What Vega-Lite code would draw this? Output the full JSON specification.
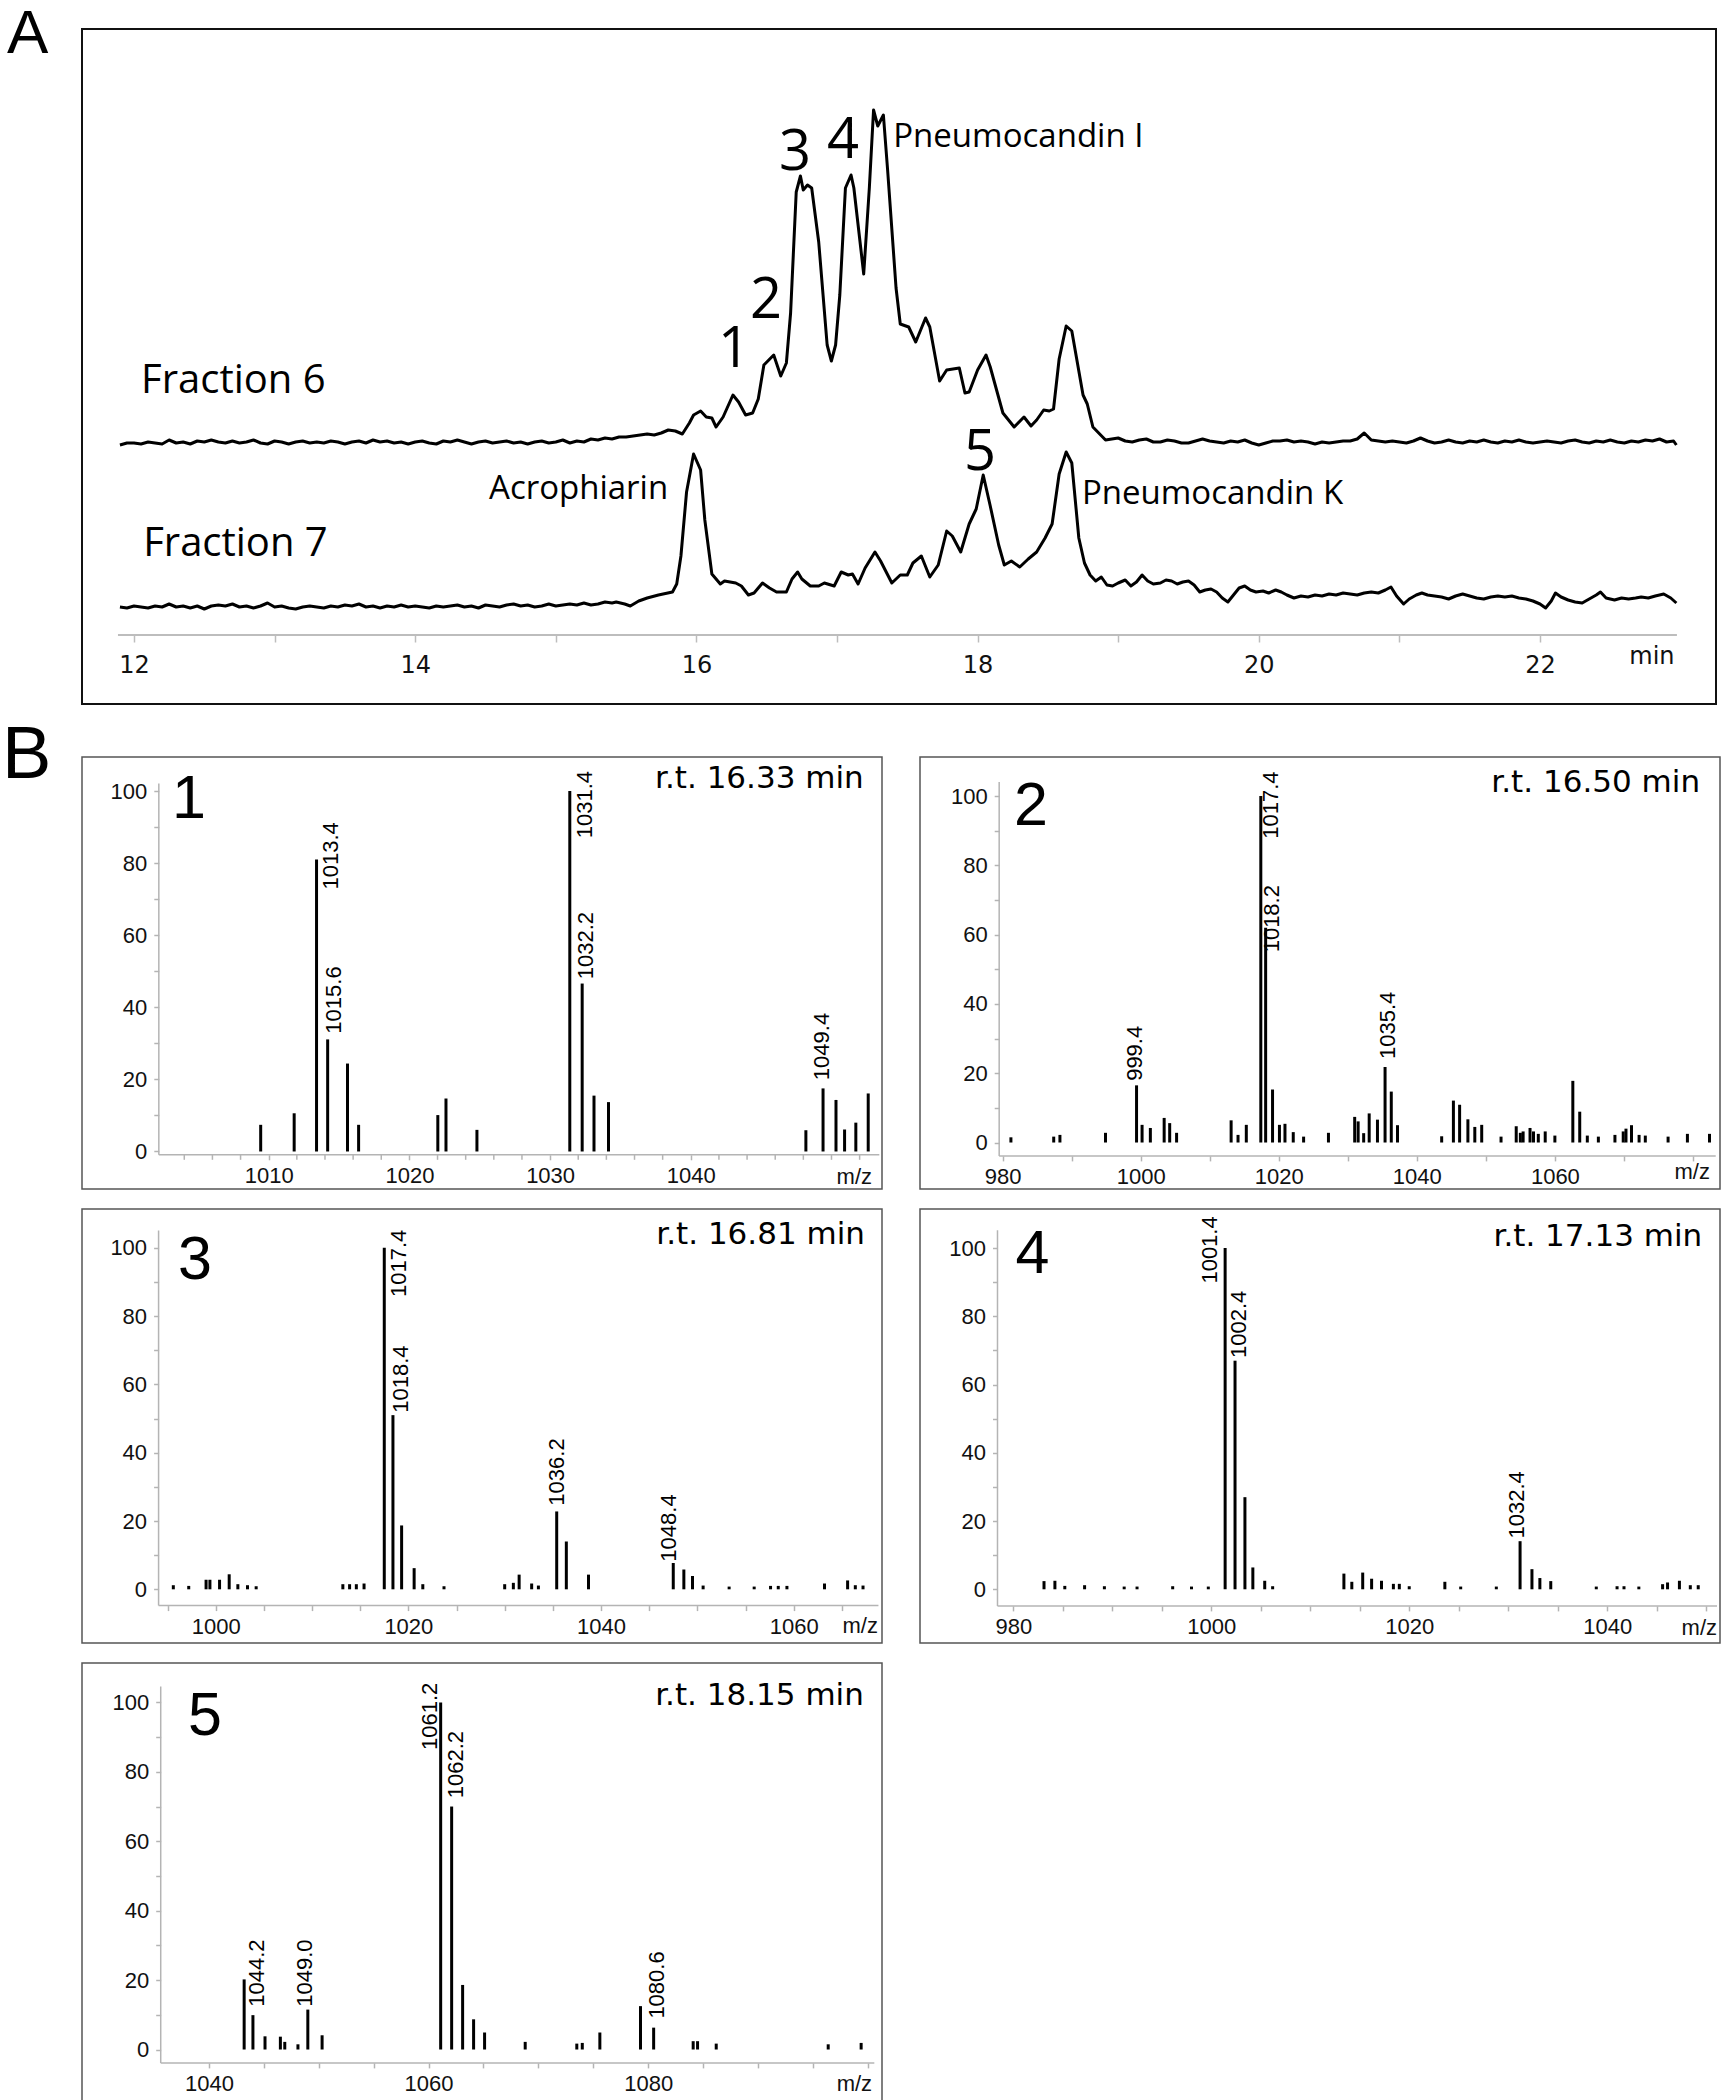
{
"$schema": "https://vega.github.io/schema/vega-lite/v6.json",
"background": "white",
"padding": {"left": 1, "top": 2, "right": 4, "bottom": 0},
"spacing": 13,
"config": {"axis": {"grid": false, "domain": false, "labelOverlap": false, "labelFlush": false, "labelBound": false}, "text": {"color": "#000"}},
"vconcat": [
{
 "width": 1634, "height": 675,
 "view": {"stroke": "#111", "strokeWidth": 2},
 "layer": [
  {"data": {"values": [
{"f":6,"t":11.9,"s":162},{"f":6,"t":11.95,"s":164},{"f":6,"t":12.0,"s":164},{"f":6,"t":12.05,"s":163},{"f":6,"t":12.1,"s":165},{"f":6,"t":12.15,"s":164},{"f":6,"t":12.2,"s":163},{"f":6,"t":12.25,"s":167},{"f":6,"t":12.3,"s":164},{"f":6,"t":12.35,"s":165},{"f":6,"t":12.4,"s":163},{"f":6,"t":12.45,"s":166},{"f":6,"t":12.5,"s":165},{"f":6,"t":12.55,"s":167},{"f":6,"t":12.6,"s":165},{"f":6,"t":12.65,"s":164},{"f":6,"t":12.7,"s":166},{"f":6,"t":12.75,"s":164},{"f":6,"t":12.8,"s":165},{"f":6,"t":12.85,"s":167},{"f":6,"t":12.9,"s":164},{"f":6,"t":12.95,"s":163},{"f":6,"t":13.0,"s":166},{"f":6,"t":13.05,"s":165},{"f":6,"t":13.1,"s":163},{"f":6,"t":13.15,"s":165},{"f":6,"t":13.2,"s":166},{"f":6,"t":13.25,"s":164},{"f":6,"t":13.3,"s":165},{"f":6,"t":13.35,"s":164},{"f":6,"t":13.4,"s":166},{"f":6,"t":13.45,"s":165},{"f":6,"t":13.5,"s":163},{"f":6,"t":13.55,"s":165},{"f":6,"t":13.6,"s":166},{"f":6,"t":13.65,"s":164},{"f":6,"t":13.7,"s":167},{"f":6,"t":13.75,"s":165},{"f":6,"t":13.8,"s":166},{"f":6,"t":13.85,"s":164},{"f":6,"t":13.9,"s":165},{"f":6,"t":13.95,"s":163},{"f":6,"t":14.0,"s":165},{"f":6,"t":14.05,"s":166},{"f":6,"t":14.1,"s":164},{"f":6,"t":14.15,"s":163},{"f":6,"t":14.2,"s":166},{"f":6,"t":14.25,"s":165},{"f":6,"t":14.3,"s":167},{"f":6,"t":14.35,"s":165},{"f":6,"t":14.4,"s":163},{"f":6,"t":14.45,"s":165},{"f":6,"t":14.5,"s":166},{"f":6,"t":14.55,"s":164},{"f":6,"t":14.6,"s":165},{"f":6,"t":14.65,"s":166},{"f":6,"t":14.7,"s":164},{"f":6,"t":14.75,"s":165},{"f":6,"t":14.8,"s":163},{"f":6,"t":14.85,"s":165},{"f":6,"t":14.9,"s":166},{"f":6,"t":14.95,"s":164},{"f":6,"t":15.0,"s":165},{"f":6,"t":15.05,"s":167},{"f":6,"t":15.1,"s":164},{"f":6,"t":15.15,"s":166},{"f":6,"t":15.2,"s":165},{"f":6,"t":15.25,"s":168},{"f":6,"t":15.3,"s":167},{"f":6,"t":15.35,"s":169},{"f":6,"t":15.4,"s":168},{"f":6,"t":15.45,"s":170},{"f":6,"t":15.5,"s":170},{"f":6,"t":15.55,"s":171},{"f":6,"t":15.6,"s":172},{"f":6,"t":15.65,"s":173},{"f":6,"t":15.7,"s":172},{"f":6,"t":15.75,"s":174},{"f":6,"t":15.8,"s":177},{"f":6,"t":15.85,"s":176},{"f":6,"t":15.9,"s":173},{"f":6,"t":15.95,"s":184},{"f":6,"t":15.98,"s":192},{"f":6,"t":16.03,"s":196},{"f":6,"t":16.07,"s":190},{"f":6,"t":16.11,"s":189},{"f":6,"t":16.14,"s":180},{"f":6,"t":16.19,"s":190},{"f":6,"t":16.26,"s":212},{"f":6,"t":16.3,"s":205},{"f":6,"t":16.35,"s":192},{"f":6,"t":16.4,"s":194},{"f":6,"t":16.44,"s":208},{"f":6,"t":16.48,"s":242},{"f":6,"t":16.55,"s":252},{"f":6,"t":16.6,"s":231},{"f":6,"t":16.64,"s":244},{"f":6,"t":16.67,"s":294},{"f":6,"t":16.71,"s":415},{"f":6,"t":16.74,"s":431},{"f":6,"t":16.76,"s":417},{"f":6,"t":16.79,"s":422},{"f":6,"t":16.82,"s":419},{"f":6,"t":16.87,"s":365},{"f":6,"t":16.93,"s":262},{"f":6,"t":16.96,"s":246},{"f":6,"t":16.99,"s":262},{"f":6,"t":17.02,"s":312},{"f":6,"t":17.06,"s":419},{"f":6,"t":17.1,"s":432},{"f":6,"t":17.12,"s":419},{"f":6,"t":17.19,"s":333},{"f":6,"t":17.23,"s":419},{"f":6,"t":17.26,"s":497},{"f":6,"t":17.29,"s":481},{"f":6,"t":17.33,"s":492},{"f":6,"t":17.36,"s":437},{"f":6,"t":17.42,"s":319},{"f":6,"t":17.45,"s":283},{"f":6,"t":17.51,"s":280},{"f":6,"t":17.56,"s":265},{"f":6,"t":17.63,"s":289},{"f":6,"t":17.66,"s":280},{"f":6,"t":17.73,"s":226},{"f":6,"t":17.78,"s":237},{"f":6,"t":17.87,"s":239},{"f":6,"t":17.91,"s":214},{"f":6,"t":17.94,"s":215},{"f":6,"t":18.0,"s":237},{"f":6,"t":18.06,"s":252},{"f":6,"t":18.09,"s":240},{"f":6,"t":18.18,"s":194},{"f":6,"t":18.26,"s":180},{"f":6,"t":18.33,"s":190},{"f":6,"t":18.38,"s":181},{"f":6,"t":18.42,"s":187},{"f":6,"t":18.47,"s":197},{"f":6,"t":18.51,"s":196},{"f":6,"t":18.54,"s":198},{"f":6,"t":18.58,"s":248},{"f":6,"t":18.63,"s":281},{"f":6,"t":18.67,"s":276},{"f":6,"t":18.75,"s":212},{"f":6,"t":18.78,"s":203},{"f":6,"t":18.82,"s":180},{"f":6,"t":18.91,"s":167},{"f":6,"t":19.0,"s":169},{"f":6,"t":19.05,"s":166},{"f":6,"t":19.1,"s":165},{"f":6,"t":19.15,"s":167},{"f":6,"t":19.2,"s":168},{"f":6,"t":19.25,"s":165},{"f":6,"t":19.3,"s":165},{"f":6,"t":19.35,"s":167},{"f":6,"t":19.4,"s":166},{"f":6,"t":19.45,"s":164},{"f":6,"t":19.5,"s":164},{"f":6,"t":19.55,"s":166},{"f":6,"t":19.6,"s":168},{"f":6,"t":19.65,"s":166},{"f":6,"t":19.7,"s":165},{"f":6,"t":19.75,"s":164},{"f":6,"t":19.8,"s":166},{"f":6,"t":19.85,"s":165},{"f":6,"t":19.9,"s":167},{"f":6,"t":19.95,"s":164},{"f":6,"t":20.0,"s":162},{"f":6,"t":20.05,"s":164},{"f":6,"t":20.1,"s":166},{"f":6,"t":20.15,"s":166},{"f":6,"t":20.2,"s":167},{"f":6,"t":20.25,"s":165},{"f":6,"t":20.3,"s":166},{"f":6,"t":20.35,"s":165},{"f":6,"t":20.4,"s":163},{"f":6,"t":20.45,"s":165},{"f":6,"t":20.5,"s":164},{"f":6,"t":20.55,"s":165},{"f":6,"t":20.6,"s":166},{"f":6,"t":20.65,"s":166},{"f":6,"t":20.7,"s":168},{"f":6,"t":20.75,"s":174},{"f":6,"t":20.8,"s":167},{"f":6,"t":20.85,"s":166},{"f":6,"t":20.9,"s":165},{"f":6,"t":20.95,"s":166},{"f":6,"t":21.0,"s":165},{"f":6,"t":21.05,"s":164},{"f":6,"t":21.1,"s":166},{"f":6,"t":21.15,"s":169},{"f":6,"t":21.2,"s":166},{"f":6,"t":21.25,"s":164},{"f":6,"t":21.3,"s":165},{"f":6,"t":21.35,"s":167},{"f":6,"t":21.4,"s":165},{"f":6,"t":21.45,"s":164},{"f":6,"t":21.5,"s":166},{"f":6,"t":21.55,"s":165},{"f":6,"t":21.6,"s":167},{"f":6,"t":21.65,"s":165},{"f":6,"t":21.7,"s":164},{"f":6,"t":21.75,"s":166},{"f":6,"t":21.8,"s":165},{"f":6,"t":21.85,"s":167},{"f":6,"t":21.9,"s":165},{"f":6,"t":21.95,"s":164},{"f":6,"t":22.0,"s":165},{"f":6,"t":22.05,"s":166},{"f":6,"t":22.1,"s":165},{"f":6,"t":22.15,"s":164},{"f":6,"t":22.2,"s":166},{"f":6,"t":22.25,"s":167},{"f":6,"t":22.3,"s":165},{"f":6,"t":22.35,"s":164},{"f":6,"t":22.4,"s":166},{"f":6,"t":22.45,"s":165},{"f":6,"t":22.5,"s":167},{"f":6,"t":22.55,"s":165},{"f":6,"t":22.6,"s":164},{"f":6,"t":22.65,"s":166},{"f":6,"t":22.7,"s":165},{"f":6,"t":22.75,"s":167},{"f":6,"t":22.8,"s":166},{"f":6,"t":22.85,"s":168},{"f":6,"t":22.9,"s":165},{"f":6,"t":22.95,"s":166},{"f":6,"t":22.97,"s":162},
{"f":7,"t":11.9,"s":0},{"f":7,"t":11.95,"s":-1},{"f":7,"t":12.0,"s":1},{"f":7,"t":12.05,"s":0},{"f":7,"t":12.1,"s":-1},{"f":7,"t":12.15,"s":1},{"f":7,"t":12.2,"s":0},{"f":7,"t":12.25,"s":3},{"f":7,"t":12.3,"s":0},{"f":7,"t":12.35,"s":1},{"f":7,"t":12.4,"s":-1},{"f":7,"t":12.45,"s":1},{"f":7,"t":12.5,"s":-2},{"f":7,"t":12.55,"s":1},{"f":7,"t":12.6,"s":2},{"f":7,"t":12.65,"s":1},{"f":7,"t":12.7,"s":3},{"f":7,"t":12.75,"s":0},{"f":7,"t":12.8,"s":1},{"f":7,"t":12.85,"s":-1},{"f":7,"t":12.9,"s":1},{"f":7,"t":12.95,"s":4},{"f":7,"t":13.0,"s":0},{"f":7,"t":13.05,"s":1},{"f":7,"t":13.1,"s":-1},{"f":7,"t":13.15,"s":-2},{"f":7,"t":13.2,"s":0},{"f":7,"t":13.25,"s":1},{"f":7,"t":13.3,"s":0},{"f":7,"t":13.35,"s":-1},{"f":7,"t":13.4,"s":1},{"f":7,"t":13.45,"s":0},{"f":7,"t":13.5,"s":2},{"f":7,"t":13.55,"s":1},{"f":7,"t":13.6,"s":3},{"f":7,"t":13.65,"s":0},{"f":7,"t":13.7,"s":1},{"f":7,"t":13.75,"s":-1},{"f":7,"t":13.8,"s":1},{"f":7,"t":13.85,"s":0},{"f":7,"t":13.9,"s":2},{"f":7,"t":13.95,"s":0},{"f":7,"t":14.0,"s":1},{"f":7,"t":14.05,"s":0},{"f":7,"t":14.1,"s":-1},{"f":7,"t":14.15,"s":1},{"f":7,"t":14.2,"s":0},{"f":7,"t":14.25,"s":1},{"f":7,"t":14.3,"s":2},{"f":7,"t":14.35,"s":0},{"f":7,"t":14.4,"s":1},{"f":7,"t":14.45,"s":-1},{"f":7,"t":14.5,"s":2},{"f":7,"t":14.55,"s":1},{"f":7,"t":14.6,"s":0},{"f":7,"t":14.65,"s":2},{"f":7,"t":14.7,"s":3},{"f":7,"t":14.75,"s":1},{"f":7,"t":14.8,"s":2},{"f":7,"t":14.85,"s":0},{"f":7,"t":14.9,"s":1},{"f":7,"t":14.95,"s":3},{"f":7,"t":15.0,"s":1},{"f":7,"t":15.05,"s":2},{"f":7,"t":15.1,"s":3},{"f":7,"t":15.15,"s":2},{"f":7,"t":15.2,"s":4},{"f":7,"t":15.25,"s":2},{"f":7,"t":15.3,"s":3},{"f":7,"t":15.35,"s":5},{"f":7,"t":15.4,"s":4},{"f":7,"t":15.43,"s":5},{"f":7,"t":15.49,"s":3},{"f":7,"t":15.53,"s":1},{"f":7,"t":15.59,"s":6},{"f":7,"t":15.65,"s":9},{"f":7,"t":15.73,"s":12},{"f":7,"t":15.83,"s":15},{"f":7,"t":15.86,"s":23},{"f":7,"t":15.89,"s":51},{"f":7,"t":15.93,"s":115},{"f":7,"t":15.98,"s":153},{"f":7,"t":16.03,"s":137},{"f":7,"t":16.06,"s":87},{"f":7,"t":16.11,"s":33},{"f":7,"t":16.17,"s":23},{"f":7,"t":16.2,"s":26},{"f":7,"t":16.28,"s":24},{"f":7,"t":16.32,"s":21},{"f":7,"t":16.37,"s":12},{"f":7,"t":16.41,"s":14},{"f":7,"t":16.47,"s":24},{"f":7,"t":16.52,"s":19},{"f":7,"t":16.57,"s":15},{"f":7,"t":16.64,"s":15},{"f":7,"t":16.68,"s":28},{"f":7,"t":16.72,"s":35},{"f":7,"t":16.75,"s":28},{"f":7,"t":16.81,"s":21},{"f":7,"t":16.87,"s":21},{"f":7,"t":16.91,"s":24},{"f":7,"t":16.98,"s":21},{"f":7,"t":17.03,"s":35},{"f":7,"t":17.08,"s":32},{"f":7,"t":17.11,"s":33},{"f":7,"t":17.15,"s":23},{"f":7,"t":17.2,"s":39},{"f":7,"t":17.27,"s":55},{"f":7,"t":17.31,"s":46},{"f":7,"t":17.39,"s":24},{"f":7,"t":17.45,"s":32},{"f":7,"t":17.5,"s":32},{"f":7,"t":17.54,"s":44},{"f":7,"t":17.6,"s":51},{"f":7,"t":17.66,"s":30},{"f":7,"t":17.72,"s":42},{"f":7,"t":17.78,"s":76},{"f":7,"t":17.82,"s":71},{"f":7,"t":17.88,"s":55},{"f":7,"t":17.94,"s":83},{"f":7,"t":17.99,"s":98},{"f":7,"t":18.04,"s":132},{"f":7,"t":18.09,"s":101},{"f":7,"t":18.15,"s":62},{"f":7,"t":18.19,"s":42},{"f":7,"t":18.24,"s":46},{"f":7,"t":18.3,"s":40},{"f":7,"t":18.36,"s":48},{"f":7,"t":18.42,"s":55},{"f":7,"t":18.48,"s":69},{"f":7,"t":18.53,"s":83},{"f":7,"t":18.58,"s":133},{"f":7,"t":18.63,"s":155},{"f":7,"t":18.67,"s":144},{"f":7,"t":18.72,"s":69},{"f":7,"t":18.76,"s":44},{"f":7,"t":18.8,"s":32},{"f":7,"t":18.84,"s":26},{"f":7,"t":18.88,"s":30},{"f":7,"t":18.92,"s":22},{"f":7,"t":18.96,"s":21},{"f":7,"t":19.0,"s":24},{"f":7,"t":19.05,"s":27},{"f":7,"t":19.09,"s":21},{"f":7,"t":19.13,"s":25},{"f":7,"t":19.17,"s":32},{"f":7,"t":19.21,"s":26},{"f":7,"t":19.25,"s":23},{"f":7,"t":19.3,"s":24},{"f":7,"t":19.34,"s":27},{"f":7,"t":19.38,"s":26},{"f":7,"t":19.42,"s":23},{"f":7,"t":19.46,"s":25},{"f":7,"t":19.5,"s":26},{"f":7,"t":19.54,"s":22},{"f":7,"t":19.58,"s":15},{"f":7,"t":19.62,"s":17},{"f":7,"t":19.66,"s":18},{"f":7,"t":19.7,"s":15},{"f":7,"t":19.74,"s":9},{"f":7,"t":19.78,"s":5},{"f":7,"t":19.82,"s":12},{"f":7,"t":19.86,"s":19},{"f":7,"t":19.9,"s":21},{"f":7,"t":19.94,"s":17},{"f":7,"t":19.98,"s":15},{"f":7,"t":20.03,"s":16},{"f":7,"t":20.07,"s":14},{"f":7,"t":20.12,"s":17},{"f":7,"t":20.16,"s":15},{"f":7,"t":20.2,"s":12},{"f":7,"t":20.25,"s":9},{"f":7,"t":20.3,"s":11},{"f":7,"t":20.35,"s":10},{"f":7,"t":20.4,"s":12},{"f":7,"t":20.45,"s":11},{"f":7,"t":20.5,"s":13},{"f":7,"t":20.55,"s":12},{"f":7,"t":20.6,"s":14},{"f":7,"t":20.65,"s":13},{"f":7,"t":20.7,"s":12},{"f":7,"t":20.75,"s":14},{"f":7,"t":20.8,"s":15},{"f":7,"t":20.85,"s":14},{"f":7,"t":20.9,"s":17},{"f":7,"t":20.94,"s":20},{"f":7,"t":20.98,"s":11},{"f":7,"t":21.03,"s":3},{"f":7,"t":21.07,"s":8},{"f":7,"t":21.12,"s":12},{"f":7,"t":21.16,"s":14},{"f":7,"t":21.2,"s":12},{"f":7,"t":21.25,"s":11},{"f":7,"t":21.3,"s":10},{"f":7,"t":21.35,"s":8},{"f":7,"t":21.4,"s":11},{"f":7,"t":21.45,"s":13},{"f":7,"t":21.5,"s":11},{"f":7,"t":21.55,"s":9},{"f":7,"t":21.6,"s":8},{"f":7,"t":21.65,"s":10},{"f":7,"t":21.7,"s":11},{"f":7,"t":21.75,"s":10},{"f":7,"t":21.8,"s":11},{"f":7,"t":21.85,"s":9},{"f":7,"t":21.9,"s":8},{"f":7,"t":21.95,"s":6},{"f":7,"t":22.0,"s":3},{"f":7,"t":22.04,"s":-1},{"f":7,"t":22.08,"s":6},{"f":7,"t":22.11,"s":14},{"f":7,"t":22.15,"s":10},{"f":7,"t":22.2,"s":7},{"f":7,"t":22.25,"s":5},{"f":7,"t":22.3,"s":4},{"f":7,"t":22.35,"s":8},{"f":7,"t":22.4,"s":12},{"f":7,"t":22.43,"s":15},{"f":7,"t":22.47,"s":9},{"f":7,"t":22.53,"s":7},{"f":7,"t":22.58,"s":9},{"f":7,"t":22.63,"s":8},{"f":7,"t":22.68,"s":9},{"f":7,"t":22.72,"s":10},{"f":7,"t":22.77,"s":9},{"f":7,"t":22.82,"s":11},{"f":7,"t":22.88,"s":13},{"f":7,"t":22.93,"s":9},{"f":7,"t":22.97,"s":4}
  ]},
   "mark": {"type": "line", "color": "#000", "strokeWidth": 3, "strokeJoin": "round"},
   "encoding": {
    "x": {"field": "t", "type": "quantitative", "scale": {"domain": [11.6302, 23.2518], "nice": false, "zero": false},
      "axis": {"orient": "bottom", "offset": -69, "values": [12,12.5,13,13.5,14,14.5,15,15.5,16,16.5,17,17.5,18,18.5,19,19.5,20,20.5,21,21.5,22,22.5], "labelExpr": "datum.value % 2 === 0 ? datum.label : ''", "format": "d", "tickSize": 7, "tickWidth": 1.5, "tickColor": "#bdbdbd", "labelFont": "DejaVu Sans", "labelFontSize": 24, "labelPadding": 11, "labelColor": "#111", "title": null, "domain": false, "grid": false, "labelOverlap": false, "labelFlush": false, "labelBound": false}},
    "y": {"field": "s", "type": "quantitative", "scale": {"domain": [-97, 578], "nice": false, "zero": false}, "axis": null},
    "detail": {"field": "f"}
   }},
  {"data": {"values": [{}]}, "mark": {"type": "rule", "color": "#bdbdbd", "strokeWidth": 2},
   "encoding": {"x": {"datum": 11.886, "type": "quantitative", "scale": {"domain": [11.6302, 23.2518], "nice": false, "zero": false}}, "x2": {"datum": 22.974}, "y": {"datum": -28, "type": "quantitative", "scale": {"domain": [-97, 578], "nice": false, "zero": false}, "axis": null}}},
  {"data": {"values": [{"t":16.267,"s":240,"label":"1"},{"t":16.495,"s":289,"label":"2"},{"t":16.701,"s":437,"label":"3"},{"t":17.043,"s":449,"label":"4"},{"t":18.017,"s":137,"label":"5"}]},
   "mark": {"type": "text", "font": "Open Sans", "fontSize": 56, "align": "center", "baseline": "alphabetic"},
   "encoding": {"x": {"field": "t", "type": "quantitative", "scale": {"domain": [11.6302, 23.2518], "nice": false, "zero": false}}, "y": {"field": "s", "type": "quantitative", "scale": {"domain": [-97, 578], "nice": false, "zero": false}, "axis": null}, "text": {"field": "label"}}},
  {"data": {"values": [{"t":17.40,"s":460,"label":"Pneumocandin I"},{"t":18.742,"s":103,"label":"Pneumocandin K"},{"t":14.525,"s":108,"label":"Acrophiarin"}]},
   "mark": {"type": "text", "font": "Open Sans", "fontSize": 33, "align": "left", "baseline": "alphabetic"},
   "encoding": {"x": {"field": "t", "type": "quantitative", "scale": {"domain": [11.6302, 23.2518], "nice": false, "zero": false}}, "y": {"field": "s", "type": "quantitative", "scale": {"domain": [-97, 578], "nice": false, "zero": false}, "axis": null}, "text": {"field": "label"}}},
  {"data": {"values": [{"t":12.05,"s":214,"label":"Fraction 6"},{"t":12.065,"s":51,"label":"Fraction 7"}]},
   "mark": {"type": "text", "font": "Open Sans", "fontSize": 40, "align": "left", "baseline": "alphabetic"},
   "encoding": {"x": {"field": "t", "type": "quantitative", "scale": {"domain": [11.6302, 23.2518], "nice": false, "zero": false}}, "y": {"field": "s", "type": "quantitative", "scale": {"domain": [-97, 578], "nice": false, "zero": false}, "axis": null}, "text": {"field": "label"}}},
  {"data": {"values": [{}]}, "mark": {"type": "text", "font": "DejaVu Sans", "fontSize": 24, "align": "right", "baseline": "alphabetic", "color": "#111"},
   "encoding": {"x": {"datum": 22.957, "type": "quantitative", "scale": {"domain": [11.6302, 23.2518], "nice": false, "zero": false}}, "y": {"datum": -57, "type": "quantitative", "scale": {"domain": [-97, 578], "nice": false, "zero": false}, "axis": null}, "text": {"value": "min"}}},
  {"data": {"values": [{}]}, "mark": {"type": "text", "font": "Liberation Sans", "fontSize": 62, "align": "left", "baseline": "alphabetic"},
   "encoding": {"x": {"datum": 11.0968, "type": "quantitative", "scale": {"domain": [11.6302, 23.2518], "nice": false, "zero": false}}, "y": {"datum": 554, "type": "quantitative", "scale": {"domain": [-97, 578], "nice": false, "zero": false}, "axis": null}, "text": {"value": "A"}}}
 ]
},
{
 "spacing": 18,
 "vconcat": [
 {
  "spacing": 36,
  "hconcat": [
  {
   "width": 800, "height": 432,
   "view": {"stroke": "#555", "strokeWidth": 1.5},
   "layer": [
    {"data": {"values": [{"mz":1009.43,"h":7.4},{"mz":1011.81,"h":10.6},{"mz":1013.4,"h":81},{"mz":1014.19,"h":31.1},{"mz":1015.6,"h":24.4},{"mz":1016.39,"h":7.4},{"mz":1022.02,"h":10.1},{"mz":1022.6,"h":14.7},{"mz":1024.8,"h":6.0},{"mz":1031.4,"h":100},{"mz":1032.28,"h":46.6},{"mz":1033.12,"h":15.5},{"mz":1034.15,"h":13.7},{"mz":1048.18,"h":5.9},{"mz":1049.4,"h":17.5},{"mz":1050.32,"h":14.3},{"mz":1050.93,"h":6.1},{"mz":1051.73,"h":8.0},{"mz":1052.61,"h":16.1}]},
     "mark": {"type": "rule", "strokeWidth": 3, "color": "#000"},
     "encoding": {
      "x": {"field": "mz", "type": "quantitative", "scale": {"domain": [996.73, 1053.59], "nice": false, "zero": false},
        "axis": {"orient": "bottom", "offset": -34.2, "values": [1010,1020,1030,1040], "format": "d", "tickSize": 5, "tickWidth": 1.5, "tickColor": "#b4b4b4", "labelFont": "Liberation Sans", "labelFontSize": 22, "labelPadding": 6, "labelColor": "#111", "title": null, "domain": false, "grid": false, "labelOverlap": false, "labelFlush": false, "labelBound": false}},
      "y": {"field": "h", "type": "quantitative", "scale": {"domain": [-10.41, 109.46], "nice": false, "zero": false},
        "axis": {"orient": "left", "offset": -76.8, "values": [0,5,10,15,20,25,30,35,40,45,50,55,60,65,70,75,80,85,90,95,100], "labelExpr": "datum.value % 20 === 0 ? datum.label : ''", "format": "d", "tickSize": 5, "tickWidth": 1.5, "tickColor": "#b4b4b4", "labelFont": "Liberation Sans", "labelFontSize": 22, "labelPadding": 7, "labelColor": "#111", "title": null, "domain": false, "grid": false, "labelOverlap": false, "labelFlush": false, "labelBound": false}},
      "y2": {"datum": 0}
     }},
    {"data": {"values": [{"mz":1004},{"mz":1006},{"mz":1008},{"mz":1012},{"mz":1014},{"mz":1016},{"mz":1018},{"mz":1022},{"mz":1024},{"mz":1026},{"mz":1028},{"mz":1032},{"mz":1034},{"mz":1036},{"mz":1038},{"mz":1042},{"mz":1044},{"mz":1046},{"mz":1048},{"mz":1050},{"mz":1052}]},
     "mark": {"type": "rule", "color": "#b4b4b4", "strokeWidth": 1.5},
     "encoding": {"x": {"field": "mz", "type": "quantitative", "scale": {"domain": [996.73, 1053.59], "nice": false, "zero": false}}, "y": {"datum": -0.92, "type": "quantitative", "scale": {"domain": [-10.41, 109.46], "nice": false, "zero": false}}, "y2": {"datum": -2.31}}},
    {"data": {"values": [{"mz":1014.41,"y":72.7,"label":"1013.4"},{"mz":1014.63,"y":32.7,"label":"1015.6"},{"mz":1032.51,"y":86.9,"label":"1031.4"},{"mz":1032.58,"y":47.8,"label":"1032.2"},{"mz":1049.29,"y":19.8,"label":"1049.4"}]},
     "mark": {"type": "text", "angle": 270, "align": "left", "baseline": "middle", "font": "Liberation Sans", "fontSize": 22},
     "encoding": {"x": {"field": "mz", "type": "quantitative", "scale": {"domain": [996.73, 1053.59], "nice": false, "zero": false}}, "y": {"field": "y", "type": "quantitative", "scale": {"domain": [-10.41, 109.46], "nice": false, "zero": false}}, "text": {"field": "label"}}},
    {"data": {"values": [{}]}, "mark": {"type": "rule", "color": "#b4b4b4", "strokeWidth": 1.5},
     "encoding": {"x": {"datum": 1002.19, "type": "quantitative", "scale": {"domain": [996.73, 1053.59], "nice": false, "zero": false}}, "y": {"datum": -0.92, "type": "quantitative", "scale": {"domain": [-10.41, 109.46], "nice": false, "zero": false}}, "y2": {"datum": 102.1}}},
    {"data": {"values": [{}]}, "mark": {"type": "rule", "color": "#b4b4b4", "strokeWidth": 1.5},
     "encoding": {"x": {"datum": 1002.19, "type": "quantitative", "scale": {"domain": [996.73, 1053.59], "nice": false, "zero": false}}, "x2": {"datum": 1053.4}, "y": {"datum": -0.92, "type": "quantitative", "scale": {"domain": [-10.41, 109.46], "nice": false, "zero": false}}}},
    {"data": {"values": [{}]}, "mark": {"type": "text", "font": "Liberation Sans", "fontSize": 61, "align": "left", "baseline": "alphabetic"},
     "encoding": {"x": {"datum": 1003.13, "type": "quantitative", "scale": {"domain": [996.73, 1053.59], "nice": false, "zero": false}}, "y": {"datum": 92.6, "type": "quantitative", "scale": {"domain": [-10.41, 109.46], "nice": false, "zero": false}}, "text": {"value": "1"}}},
    {"data": {"values": [{}]}, "mark": {"type": "text", "font": "DejaVu Sans", "fontSize": 31, "align": "right", "baseline": "alphabetic"},
     "encoding": {"x": {"datum": 1052.29, "type": "quantitative", "scale": {"domain": [996.73, 1053.59], "nice": false, "zero": false}}, "y": {"datum": 100.72, "type": "quantitative", "scale": {"domain": [-10.41, 109.46], "nice": false, "zero": false}}, "text": {"value": "r.t. 16.33 min"}}},
    {"data": {"values": [{}]}, "mark": {"type": "text", "font": "Liberation Sans", "fontSize": 22, "align": "right", "baseline": "middle", "color": "#111"},
     "encoding": {"x": {"datum": 1052.88, "type": "quantitative", "scale": {"domain": [996.73, 1053.59], "nice": false, "zero": false}}, "y": {"datum": -7.1, "type": "quantitative", "scale": {"domain": [-10.41, 109.46], "nice": false, "zero": false}}, "text": {"value": "m/z"}}},
    {"data": {"values": [{}]}, "mark": {"type": "text", "font": "Liberation Sans", "fontSize": 74, "align": "left", "baseline": "alphabetic"},
     "encoding": {"x": {"datum": 991.04, "type": "quantitative", "scale": {"domain": [996.73, 1053.59], "nice": false, "zero": false}}, "y": {"datum": 103.7, "type": "quantitative", "scale": {"domain": [-10.41, 109.46], "nice": false, "zero": false}}, "text": {"value": "B"}}}
   ]
  },
  {
   "width": 800, "height": 432,
   "view": {"stroke": "#555", "strokeWidth": 1.5},
   "layer": [
    {"data": {"values": [{"mz":981.2,"h":1.5},{"mz":987.4,"h":1.7},{"mz":988.3,"h":2.2},{"mz":994.9,"h":2.8},{"mz":999.4,"h":16.5},{"mz":1000.2,"h":5.1},{"mz":1001.4,"h":4.2},{"mz":1003.4,"h":7.1},{"mz":1004.2,"h":5.6},{"mz":1005.2,"h":2.8},{"mz":1013.1,"h":6.4},{"mz":1014.1,"h":2.2},{"mz":1015.3,"h":5.1},{"mz":1017.4,"h":100},{"mz":1018.1,"h":62},{"mz":1019.1,"h":15.3},{"mz":1020.1,"h":5.1},{"mz":1020.9,"h":5.4},{"mz":1022.1,"h":3.0},{"mz":1023.6,"h":1.7},{"mz":1027.2,"h":2.8},{"mz":1031.0,"h":7.4},{"mz":1031.5,"h":6.1},{"mz":1032.3,"h":2.7},{"mz":1033.1,"h":8.4},{"mz":1034.3,"h":6.6},{"mz":1035.4,"h":21.8},{"mz":1036.3,"h":14.7},{"mz":1037.2,"h":5.0},{"mz":1043.6,"h":1.8},{"mz":1045.3,"h":12.1},{"mz":1046.2,"h":10.9},{"mz":1047.4,"h":6.7},{"mz":1048.4,"h":4.5},{"mz":1049.4,"h":5.1},{"mz":1052.2,"h":1.7},{"mz":1054.4,"h":4.7},{"mz":1055.0,"h":2.8},{"mz":1055.4,"h":3.2},{"mz":1056.4,"h":4.2},{"mz":1056.9,"h":3.2},{"mz":1057.6,"h":2.5},{"mz":1058.6,"h":3.2},{"mz":1060.0,"h":2.0},{"mz":1062.6,"h":17.8},{"mz":1063.6,"h":8.9},{"mz":1064.7,"h":2.0},{"mz":1066.3,"h":1.7},{"mz":1068.7,"h":2.2},{"mz":1069.9,"h":3.2},{"mz":1070.3,"h":4.0},{"mz":1071.1,"h":5.0},{"mz":1072.2,"h":2.2},{"mz":1073.1,"h":2.0},{"mz":1076.4,"h":1.7},{"mz":1079.2,"h":2.5},{"mz":1082.4,"h":2.5}]},
     "mark": {"type": "rule", "strokeWidth": 3, "color": "#000"},
     "encoding": {
      "x": {"field": "mz", "type": "quantitative", "scale": {"domain": [968.03, 1083.92], "nice": false, "zero": false},
        "axis": {"orient": "bottom", "offset": -33.1, "values": [980,985,990,995,1000,1005,1010,1015,1020,1025,1030,1035,1040,1045,1050,1055,1060,1065,1070,1075,1080], "labelExpr": "datum.value % 20 === 0 && datum.value <= 1060 ? datum.label : ''", "format": "d", "tickSize": 5, "tickWidth": 1.5, "tickColor": "#b4b4b4", "labelFont": "Liberation Sans", "labelFontSize": 22, "labelPadding": 6, "labelColor": "#111", "title": null, "domain": false, "grid": false, "labelOverlap": false, "labelFlush": false, "labelBound": false}},
      "y": {"field": "h", "type": "quantitative", "scale": {"domain": [-13.42, 111.29], "nice": false, "zero": false},
        "axis": {"orient": "left", "offset": -79.2, "values": [0,5,10,15,20,25,30,35,40,45,50,55,60,65,70,75,80,85,90,95,100], "labelExpr": "datum.value % 20 === 0 ? datum.label : ''", "format": "d", "tickSize": 5, "tickWidth": 1.5, "tickColor": "#b4b4b4", "labelFont": "Liberation Sans", "labelFontSize": 22, "labelPadding": 7, "labelColor": "#111", "title": null, "domain": false, "grid": false, "labelOverlap": false, "labelFlush": false, "labelBound": false}},
      "y2": {"datum": 0}
     }},
    {"data": {"values": [{"mz":999.21,"y":17.8,"label":"999.4"},{"mz":1018.83,"y":87.7,"label":"1017.4"},{"mz":1019.06,"y":54.9,"label":"1018.2"},{"mz":1035.82,"y":24.1,"label":"1035.4"}]},
     "mark": {"type": "text", "angle": 270, "align": "left", "baseline": "middle", "font": "Liberation Sans", "fontSize": 22},
     "encoding": {"x": {"field": "mz", "type": "quantitative", "scale": {"domain": [968.03, 1083.92], "nice": false, "zero": false}}, "y": {"field": "y", "type": "quantitative", "scale": {"domain": [-13.42, 111.29], "nice": false, "zero": false}}, "text": {"field": "label"}}},
    {"data": {"values": [{}]}, "mark": {"type": "rule", "color": "#b4b4b4", "strokeWidth": 1.5},
     "encoding": {"x": {"datum": 979.5, "type": "quantitative", "scale": {"domain": [968.03, 1083.92], "nice": false, "zero": false}}, "y": {"datum": -3.87, "type": "quantitative", "scale": {"domain": [-13.42, 111.29], "nice": false, "zero": false}}, "y2": {"datum": 104.1}}},
    {"data": {"values": [{}]}, "mark": {"type": "rule", "color": "#b4b4b4", "strokeWidth": 1.5},
     "encoding": {"x": {"datum": 979.5, "type": "quantitative", "scale": {"domain": [968.03, 1083.92], "nice": false, "zero": false}}, "x2": {"datum": 1083.3}, "y": {"datum": -3.87, "type": "quantitative", "scale": {"domain": [-13.42, 111.29], "nice": false, "zero": false}}}},
    {"data": {"values": [{}]}, "mark": {"type": "text", "font": "Liberation Sans", "fontSize": 61, "align": "left", "baseline": "alphabetic"},
     "encoding": {"x": {"datum": 981.65, "type": "quantitative", "scale": {"domain": [968.03, 1083.92], "nice": false, "zero": false}}, "y": {"datum": 91.54, "type": "quantitative", "scale": {"domain": [-13.42, 111.29], "nice": false, "zero": false}}, "text": {"value": "2"}}},
    {"data": {"values": [{}]}, "mark": {"type": "text", "font": "DejaVu Sans", "fontSize": 31, "align": "right", "baseline": "alphabetic"},
     "encoding": {"x": {"datum": 1081.03, "type": "quantitative", "scale": {"domain": [968.03, 1083.92], "nice": false, "zero": false}}, "y": {"datum": 101.19, "type": "quantitative", "scale": {"domain": [-13.42, 111.29], "nice": false, "zero": false}}, "text": {"value": "r.t. 16.50 min"}}},
    {"data": {"values": [{}]}, "mark": {"type": "text", "font": "Liberation Sans", "fontSize": 22, "align": "right", "baseline": "middle", "color": "#111"},
     "encoding": {"x": {"datum": 1082.47, "type": "quantitative", "scale": {"domain": [968.03, 1083.92], "nice": false, "zero": false}}, "y": {"datum": -8.51, "type": "quantitative", "scale": {"domain": [-13.42, 111.29], "nice": false, "zero": false}}, "text": {"value": "m/z"}}}
   ]
  }
  ]
 },
 {
  "spacing": 36,
  "hconcat": [
  {
   "width": 800, "height": 434,
   "view": {"stroke": "#555", "strokeWidth": 1.5},
   "layer": [
    {"data": {"values": [{"mz":995.6,"h":1.2},{"mz":997.2,"h":1.0},{"mz":999.0,"h":2.8},{"mz":999.4,"h":2.8},{"mz":1000.4,"h":2.8},{"mz":1001.4,"h":4.4},{"mz":1002.3,"h":1.5},{"mz":1003.3,"h":1.2},{"mz":1004.2,"h":0.9},{"mz":1013.2,"h":1.5},{"mz":1013.9,"h":1.5},{"mz":1014.6,"h":1.5},{"mz":1015.4,"h":1.7},{"mz":1017.5,"h":100},{"mz":1018.4,"h":51},{"mz":1019.3,"h":18.7},{"mz":1020.6,"h":6.2},{"mz":1021.5,"h":1.5},{"mz":1023.7,"h":0.9},{"mz":1030.0,"h":1.5},{"mz":1030.9,"h":1.9},{"mz":1031.5,"h":4.3},{"mz":1032.8,"h":1.7},{"mz":1033.5,"h":1.1},{"mz":1035.4,"h":22.8},{"mz":1036.4,"h":14.0},{"mz":1038.7,"h":4.3},{"mz":1047.5,"h":7.7},{"mz":1048.6,"h":5.8},{"mz":1049.5,"h":3.9},{"mz":1050.6,"h":1.1},{"mz":1053.3,"h":0.8},{"mz":1055.9,"h":0.8},{"mz":1057.6,"h":1.0},{"mz":1058.4,"h":1.0},{"mz":1059.3,"h":1.0},{"mz":1063.2,"h":1.7},{"mz":1065.6,"h":2.6},{"mz":1066.4,"h":1.2},{"mz":1067.2,"h":1.1}]},
     "mark": {"type": "rule", "strokeWidth": 3, "color": "#000"},
     "encoding": {
      "x": {"field": "mz", "type": "quantitative", "scale": {"domain": [986.12, 1069.17], "nice": false, "zero": false},
        "axis": {"orient": "bottom", "offset": -37.4, "values": [995,1000,1005,1010,1015,1020,1025,1030,1035,1040,1045,1050,1055,1060,1065], "labelExpr": "datum.value % 20 === 0 ? datum.label : ''", "format": "d", "tickSize": 5, "tickWidth": 1.5, "tickColor": "#b4b4b4", "labelFont": "Liberation Sans", "labelFontSize": 22, "labelPadding": 6, "labelColor": "#111", "title": null, "domain": false, "grid": false, "labelOverlap": false, "labelFlush": false, "labelBound": false}},
      "y": {"field": "h", "type": "quantitative", "scale": {"domain": [-15.72, 111.36], "nice": false, "zero": false},
        "axis": {"orient": "left", "offset": -76.6, "values": [0,5,10,15,20,25,30,35,40,45,50,55,60,65,70,75,80,85,90,95,100], "labelExpr": "datum.value % 20 === 0 ? datum.label : ''", "format": "d", "tickSize": 5, "tickWidth": 1.5, "tickColor": "#b4b4b4", "labelFont": "Liberation Sans", "labelFontSize": 22, "labelPadding": 7, "labelColor": "#111", "title": null, "domain": false, "grid": false, "labelOverlap": false, "labelFlush": false, "labelBound": false}},
      "y2": {"datum": 0}
     }},
    {"data": {"values": [{"mz":1019.0,"y":85.6,"label":"1017.4"},{"mz":1019.2,"y":51.7,"label":"1018.4"},{"mz":1035.4,"y":24.5,"label":"1036.2"},{"mz":1047.1,"y":8.1,"label":"1048.4"}]},
     "mark": {"type": "text", "angle": 270, "align": "left", "baseline": "middle", "font": "Liberation Sans", "fontSize": 22},
     "encoding": {"x": {"field": "mz", "type": "quantitative", "scale": {"domain": [986.12, 1069.17], "nice": false, "zero": false}}, "y": {"field": "y", "type": "quantitative", "scale": {"domain": [-15.72, 111.36], "nice": false, "zero": false}}, "text": {"field": "label"}}},
    {"data": {"values": [{}]}, "mark": {"type": "rule", "color": "#b4b4b4", "strokeWidth": 1.5},
     "encoding": {"x": {"datum": 994.07, "type": "quantitative", "scale": {"domain": [986.12, 1069.17], "nice": false, "zero": false}}, "y": {"datum": -4.77, "type": "quantitative", "scale": {"domain": [-15.72, 111.36], "nice": false, "zero": false}}, "y2": {"datum": 105.1}}},
    {"data": {"values": [{}]}, "mark": {"type": "rule", "color": "#b4b4b4", "strokeWidth": 1.5},
     "encoding": {"x": {"datum": 994.07, "type": "quantitative", "scale": {"domain": [986.12, 1069.17], "nice": false, "zero": false}}, "x2": {"datum": 1068.8}, "y": {"datum": -4.77, "type": "quantitative", "scale": {"domain": [-15.72, 111.36], "nice": false, "zero": false}}}},
    {"data": {"values": [{}]}, "mark": {"type": "text", "font": "Liberation Sans", "fontSize": 61, "align": "left", "baseline": "alphabetic"},
     "encoding": {"x": {"datum": 996.09, "type": "quantitative", "scale": {"domain": [986.12, 1069.17], "nice": false, "zero": false}}, "y": {"datum": 90.98, "type": "quantitative", "scale": {"domain": [-15.72, 111.36], "nice": false, "zero": false}}, "text": {"value": "3"}}},
    {"data": {"values": [{}]}, "mark": {"type": "text", "font": "DejaVu Sans", "fontSize": 31, "align": "right", "baseline": "alphabetic"},
     "encoding": {"x": {"datum": 1067.4, "type": "quantitative", "scale": {"domain": [986.12, 1069.17], "nice": false, "zero": false}}, "y": {"datum": 101.17, "type": "quantitative", "scale": {"domain": [-15.72, 111.36], "nice": false, "zero": false}}, "text": {"value": "r.t. 16.81 min"}}},
    {"data": {"values": [{}]}, "mark": {"type": "text", "font": "Liberation Sans", "fontSize": 22, "align": "right", "baseline": "middle", "color": "#111"},
     "encoding": {"x": {"datum": 1068.75, "type": "quantitative", "scale": {"domain": [986.12, 1069.17], "nice": false, "zero": false}}, "y": {"datum": -10.75, "type": "quantitative", "scale": {"domain": [-15.72, 111.36], "nice": false, "zero": false}}, "text": {"value": "m/z"}}}
   ]
  },
  {
   "width": 800, "height": 434,
   "view": {"stroke": "#555", "strokeWidth": 1.5},
   "layer": [
    {"data": {"values": [{"mz":983.1,"h":2.4},{"mz":984.2,"h":2.5},{"mz":985.2,"h":1.0},{"mz":987.2,"h":1.2},{"mz":989.2,"h":0.9},{"mz":991.2,"h":0.8},{"mz":992.5,"h":0.8},{"mz":996.1,"h":0.9},{"mz":998.0,"h":0.8},{"mz":999.7,"h":0.8},{"mz":1001.4,"h":100},{"mz":1002.4,"h":67},{"mz":1003.4,"h":27},{"mz":1004.2,"h":6.4},{"mz":1005.4,"h":2.5},{"mz":1006.2,"h":0.9},{"mz":1013.4,"h":4.6},{"mz":1014.2,"h":2.2},{"mz":1015.3,"h":4.9},{"mz":1016.2,"h":3.1},{"mz":1017.2,"h":2.5},{"mz":1018.4,"h":1.6},{"mz":1019.0,"h":1.6},{"mz":1020.0,"h":0.9},{"mz":1023.6,"h":2.2},{"mz":1025.2,"h":0.8},{"mz":1028.8,"h":0.8},{"mz":1031.2,"h":14.1},{"mz":1032.4,"h":5.9},{"mz":1033.2,"h":3.3},{"mz":1034.3,"h":2.4},{"mz":1038.9,"h":0.8},{"mz":1041.0,"h":0.9},{"mz":1041.7,"h":0.9},{"mz":1043.2,"h":0.8},{"mz":1045.6,"h":1.5},{"mz":1046.1,"h":2.0},{"mz":1047.3,"h":2.5},{"mz":1048.4,"h":1.2},{"mz":1049.2,"h":1.2}]},
     "mark": {"type": "rule", "strokeWidth": 3, "color": "#000"},
     "encoding": {
      "x": {"field": "mz", "type": "quantitative", "scale": {"domain": [970.57, 1051.4], "nice": false, "zero": false},
        "axis": {"orient": "bottom", "offset": -37.1, "values": [980,985,990,995,1000,1005,1010,1015,1020,1025,1030,1035,1040,1045,1050], "labelExpr": "datum.value % 20 === 0 ? datum.label : ''", "format": "d", "tickSize": 5, "tickWidth": 1.5, "tickColor": "#b4b4b4", "labelFont": "Liberation Sans", "labelFontSize": 22, "labelPadding": 6, "labelColor": "#111", "title": null, "domain": false, "grid": false, "labelOverlap": false, "labelFlush": false, "labelBound": false}},
      "y": {"field": "h", "type": "quantitative", "scale": {"domain": [-15.74, 111.46], "nice": false, "zero": false},
        "axis": {"orient": "left", "offset": -77.5, "values": [0,5,10,15,20,25,30,35,40,45,50,55,60,65,70,75,80,85,90,95,100], "labelExpr": "datum.value % 20 === 0 ? datum.label : ''", "format": "d", "tickSize": 5, "tickWidth": 1.5, "tickColor": "#b4b4b4", "labelFont": "Liberation Sans", "labelFontSize": 22, "labelPadding": 7, "labelColor": "#111", "title": null, "domain": false, "grid": false, "labelOverlap": false, "labelFlush": false, "labelBound": false}},
      "y2": {"datum": 0}
     }},
    {"data": {"values": [{"mz":999.9,"y":89.6,"label":"1001.4"},{"mz":1002.8,"y":67.8,"label":"1002.4"},{"mz":1030.84,"y":14.9,"label":"1032.4"}]},
     "mark": {"type": "text", "angle": 270, "align": "left", "baseline": "middle", "font": "Liberation Sans", "fontSize": 22},
     "encoding": {"x": {"field": "mz", "type": "quantitative", "scale": {"domain": [970.57, 1051.4], "nice": false, "zero": false}}, "y": {"field": "y", "type": "quantitative", "scale": {"domain": [-15.74, 111.46], "nice": false, "zero": false}}, "text": {"field": "label"}}},
    {"data": {"values": [{}]}, "mark": {"type": "rule", "color": "#b4b4b4", "strokeWidth": 1.5},
     "encoding": {"x": {"datum": 978.4, "type": "quantitative", "scale": {"domain": [970.57, 1051.4], "nice": false, "zero": false}}, "y": {"datum": -4.87, "type": "quantitative", "scale": {"domain": [-15.74, 111.46], "nice": false, "zero": false}}, "y2": {"datum": 105.2}}},
    {"data": {"values": [{}]}, "mark": {"type": "rule", "color": "#b4b4b4", "strokeWidth": 1.5},
     "encoding": {"x": {"datum": 978.4, "type": "quantitative", "scale": {"domain": [970.57, 1051.4], "nice": false, "zero": false}}, "x2": {"datum": 1051.1}, "y": {"datum": -4.87, "type": "quantitative", "scale": {"domain": [-15.74, 111.46], "nice": false, "zero": false}}}},
    {"data": {"values": [{}]}, "mark": {"type": "text", "font": "Liberation Sans", "fontSize": 61, "align": "left", "baseline": "alphabetic"},
     "encoding": {"x": {"datum": 980.22, "type": "quantitative", "scale": {"domain": [970.57, 1051.4], "nice": false, "zero": false}}, "y": {"datum": 92.8, "type": "quantitative", "scale": {"domain": [-15.74, 111.46], "nice": false, "zero": false}}, "text": {"value": "4"}}},
    {"data": {"values": [{}]}, "mark": {"type": "text", "font": "DejaVu Sans", "fontSize": 31, "align": "right", "baseline": "alphabetic"},
     "encoding": {"x": {"datum": 1049.6, "type": "quantitative", "scale": {"domain": [970.57, 1051.4], "nice": false, "zero": false}}, "y": {"datum": 100.6, "type": "quantitative", "scale": {"domain": [-15.74, 111.46], "nice": false, "zero": false}}, "text": {"value": "r.t. 17.13 min"}}},
    {"data": {"values": [{}]}, "mark": {"type": "text", "font": "Liberation Sans", "fontSize": 22, "align": "right", "baseline": "middle", "color": "#111"},
     "encoding": {"x": {"datum": 1051.1, "type": "quantitative", "scale": {"domain": [970.57, 1051.4], "nice": false, "zero": false}}, "y": {"datum": -11.34, "type": "quantitative", "scale": {"domain": [-15.74, 111.46], "nice": false, "zero": false}}, "text": {"value": "m/z"}}}
   ]
  }
  ]
 },
 {
   "width": 800, "height": 440,
   "view": {"stroke": "#555", "strokeWidth": 1.5},
   "layer": [
    {"data": {"values": [{"mz":1043.2,"h":20.2},{"mz":1044.0,"h":9.9},{"mz":1045.1,"h":3.8},{"mz":1046.5,"h":3.7},{"mz":1046.9,"h":2.2},{"mz":1048.1,"h":1.5},{"mz":1049.0,"h":11.5},{"mz":1050.3,"h":4.1},{"mz":1061.1,"h":100},{"mz":1062.1,"h":70},{"mz":1063.1,"h":18.6},{"mz":1064.1,"h":8.7},{"mz":1065.1,"h":4.9},{"mz":1068.8,"h":2.2},{"mz":1073.5,"h":1.7},{"mz":1074.0,"h":1.9},{"mz":1075.6,"h":4.9},{"mz":1079.3,"h":12.5},{"mz":1080.5,"h":6.3},{"mz":1084.1,"h":2.4},{"mz":1084.5,"h":2.4},{"mz":1086.2,"h":1.7},{"mz":1096.4,"h":1.5},{"mz":1099.4,"h":1.9}]},
     "mark": {"type": "rule", "strokeWidth": 3, "color": "#000"},
     "encoding": {
      "x": {"field": "mz", "type": "quantitative", "scale": {"domain": [1028.43, 1101.3], "nice": false, "zero": false},
        "axis": {"orient": "bottom", "offset": -40.1, "values": [1040,1045,1050,1055,1060,1065,1070,1075,1080,1085,1090,1095,1100], "labelExpr": "datum.value % 20 === 0 && datum.value <= 1080 ? datum.label : ''", "format": "d", "tickSize": 5, "tickWidth": 1.5, "tickColor": "#b4b4b4", "labelFont": "Liberation Sans", "labelFontSize": 22, "labelPadding": 6, "labelColor": "#111", "title": null, "domain": false, "grid": false, "labelOverlap": false, "labelFlush": false, "labelBound": false}},
      "y": {"field": "h", "type": "quantitative", "scale": {"domain": [-15.41, 111.35], "nice": false, "zero": false},
        "axis": {"orient": "left", "offset": -78.7, "values": [0,5,10,15,20,25,30,35,40,45,50,55,60,65,70,75,80,85,90,95,100], "labelExpr": "datum.value % 20 === 0 ? datum.label : ''", "format": "d", "tickSize": 5, "tickWidth": 1.5, "tickColor": "#b4b4b4", "labelFont": "Liberation Sans", "labelFontSize": 22, "labelPadding": 7, "labelColor": "#111", "title": null, "domain": false, "grid": false, "labelOverlap": false, "labelFlush": false, "labelBound": false}},
      "y2": {"datum": 0}
     }},
    {"data": {"values": [{"mz":1060.1,"y":86.3,"label":"1061.2"},{"mz":1062.5,"y":72.4,"label":"1062.2"},{"mz":1044.4,"y":12.3,"label":"1044.2"},{"mz":1048.7,"y":12.3,"label":"1049.0"},{"mz":1080.8,"y":8.9,"label":"1080.6"}]},
     "mark": {"type": "text", "angle": 270, "align": "left", "baseline": "middle", "font": "Liberation Sans", "fontSize": 22},
     "encoding": {"x": {"field": "mz", "type": "quantitative", "scale": {"domain": [1028.43, 1101.3], "nice": false, "zero": false}}, "y": {"field": "y", "type": "quantitative", "scale": {"domain": [-15.41, 111.35], "nice": false, "zero": false}}, "text": {"field": "label"}}},
    {"data": {"values": [{}]}, "mark": {"type": "rule", "color": "#b4b4b4", "strokeWidth": 1.5},
     "encoding": {"x": {"datum": 1035.6, "type": "quantitative", "scale": {"domain": [1028.43, 1101.3], "nice": false, "zero": false}}, "y": {"datum": -3.86, "type": "quantitative", "scale": {"domain": [-15.41, 111.35], "nice": false, "zero": false}}, "y2": {"datum": 104.6}}},
    {"data": {"values": [{}]}, "mark": {"type": "rule", "color": "#b4b4b4", "strokeWidth": 1.5},
     "encoding": {"x": {"datum": 1035.6, "type": "quantitative", "scale": {"domain": [1028.43, 1101.3], "nice": false, "zero": false}}, "x2": {"datum": 1100.6}, "y": {"datum": -3.86, "type": "quantitative", "scale": {"domain": [-15.41, 111.35], "nice": false, "zero": false}}}},
    {"data": {"values": [{}]}, "mark": {"type": "text", "font": "Liberation Sans", "fontSize": 61, "align": "left", "baseline": "alphabetic"},
     "encoding": {"x": {"datum": 1038.08, "type": "quantitative", "scale": {"domain": [1028.43, 1101.3], "nice": false, "zero": false}}, "y": {"datum": 90.66, "type": "quantitative", "scale": {"domain": [-15.41, 111.35], "nice": false, "zero": false}}, "text": {"value": "5"}}},
    {"data": {"values": [{}]}, "mark": {"type": "text", "font": "DejaVu Sans", "fontSize": 31, "align": "right", "baseline": "alphabetic"},
     "encoding": {"x": {"datum": 1099.65, "type": "quantitative", "scale": {"domain": [1028.43, 1101.3], "nice": false, "zero": false}}, "y": {"datum": 99.34, "type": "quantitative", "scale": {"domain": [-15.41, 111.35], "nice": false, "zero": false}}, "text": {"value": "r.t. 18.15 min"}}},
    {"data": {"values": [{}]}, "mark": {"type": "text", "font": "Liberation Sans", "fontSize": 22, "align": "right", "baseline": "middle", "color": "#111"},
     "encoding": {"x": {"datum": 1100.4, "type": "quantitative", "scale": {"domain": [1028.43, 1101.3], "nice": false, "zero": false}}, "y": {"datum": -9.83, "type": "quantitative", "scale": {"domain": [-15.41, 111.35], "nice": false, "zero": false}}, "text": {"value": "m/z"}}}
   ]
 }
 ]
}
]
}
